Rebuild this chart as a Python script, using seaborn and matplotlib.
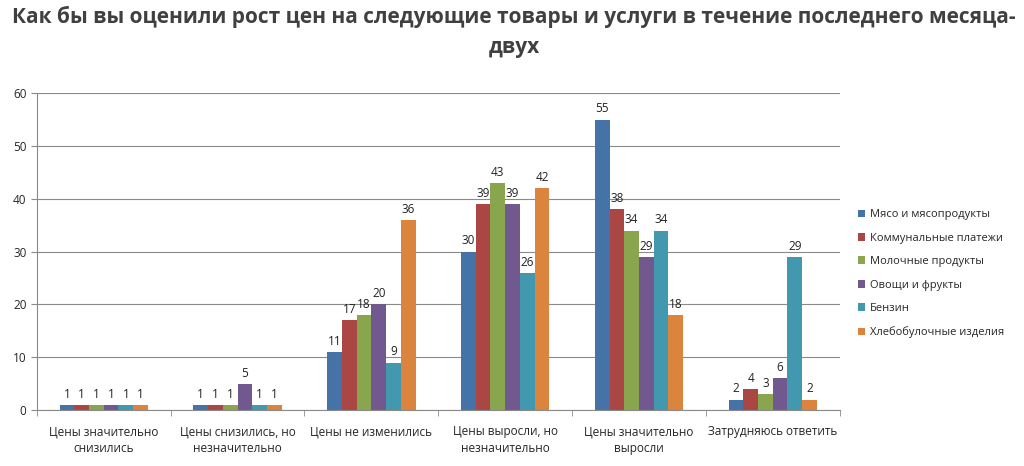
import pandas as pd
import matplotlib.pyplot as plt
import seaborn as sns

# categories and series
categories = ["Цены значительно\nснизились", "Цены снизились, но\nнезначительно",
              "Цены не изменились", "Цены выросли, но\nнезначительно",
              "Цены значительно\nвыросли", "Затрудняюсь ответить"]
series = ["Мясо и мясопродукты", "Коммунальные платежи", "Молочные продукты",
          "Овощи и фрукты", "Бензин", "Хлебобулочные изделия"]
meat = [1, 1, 11, 30, 55, 2]
utilities = [1, 1, 17, 39, 38, 4]
dairy = [1, 1, 18, 43, 34, 3]
vegetables = [1, 5, 20, 39, 29, 6]
petrol = [1, 1, 9, 26, 34, 29]
bread = [1, 1, 36, 42, 18, 2]
colors = ["#4572A7", "#AA4643", "#89A54E", "#71588F", "#4198AF", "#DB843D"]

rows = []
for name, vals in zip(series, [meat, utilities, dairy, vegetables, petrol, bread]):
    for cat, v in zip(categories, vals):
        rows.append({"category": cat, "series": name, "value": v})
data = pd.DataFrame(rows)

sns.set_style("white")
plt.rcParams["font.family"] = ["Open Sans", "DejaVu Sans"]

fig = plt.figure(figsize=(10.24, 4.66), dpi=100)
ax = fig.add_axes([0.036, 0.12, 0.784, 0.68])
sns.barplot(data=data, x="category", y="value", hue="series", palette=colors,
            width=0.66, saturation=1, linewidth=0, ax=ax, order=categories,
            hue_order=series)

for c in ax.containers:
    ax.bar_label(c, fontsize=8.5, padding=3, color="#222222")

ax.set_ylim(0, 60)
ax.set_yticks(range(0, 61, 10))
ax.set_xlim(-0.5, 5.5)
ax.yaxis.grid(True, color="#8a8a8a", linewidth=0.8)
ax.set_axisbelow(True)
for s in ["top", "right"]:
    ax.spines[s].set_visible(False)
for s in ["left", "bottom"]:
    ax.spines[s].set_color("#8a8a8a")
ax.set_xlabel("")
ax.set_ylabel("")
ax.tick_params(axis="y", labelsize=8.5, length=4, color="#8a8a8a", left=True)
ax.tick_params(axis="x", labelsize=8.5, length=0, pad=11)
ax.set_xticks([i - 0.5 for i in range(7)], minor=True)
ax.tick_params(axis="x", which="minor", length=4, color="#8a8a8a", bottom=True)
for t in ax.get_xticklabels():
    t.set_linespacing(1.35)

ax.legend(loc="center left", bbox_to_anchor=(1.01, 0.43), frameon=False,
          fontsize=8, handlelength=0.7, handleheight=0.7, handletextpad=0.4,
          labelspacing=1.12)

fig.suptitle("Как бы вы оценили рост цен на следующие товары и услуги в течение последнего месяца-\nдвух",
             fontsize=15, fontweight="bold", color="#404040", x=0.502, y=0.988,
             linespacing=1.6)

plt.savefig("out.png", dpi=100)
